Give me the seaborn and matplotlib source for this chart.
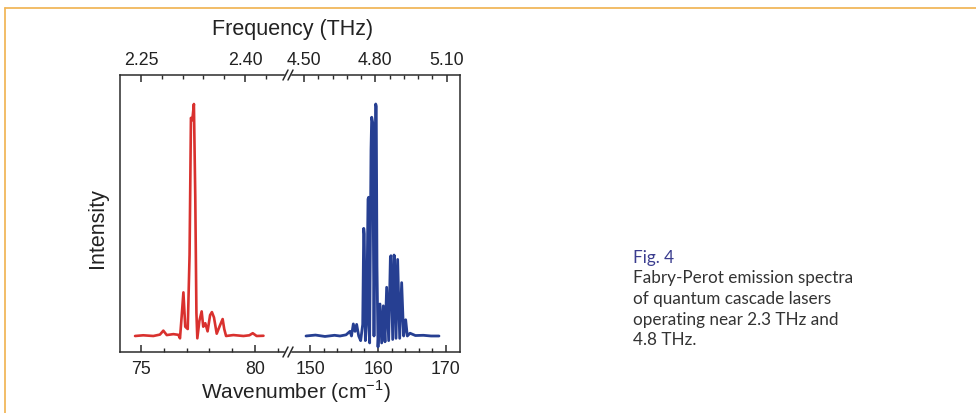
import numpy as np
import matplotlib.pyplot as plt
from matplotlib.lines import Line2D
import seaborn as sns

# Spectres (intensité normalisée au pic principal)
red_wavenumber = [74.74, 75.10, 75.54, 75.83, 75.98, 76.13, 76.42, 76.64, 76.71, 76.78,
                  76.86, 76.94, 77.05, 77.13, 77.19, 77.25, 77.32, 77.38, 77.43, 77.47,
                  77.56, 77.66, 77.73, 77.82, 77.92, 78.03, 78.11, 78.20, 78.32, 78.46,
                  78.58, 78.65, 78.73, 79.05, 79.49, 79.75, 79.90, 80.07, 80.37]
red_intensity = [0.0, 0.003, 0.0, 0.006, 0.023, 0.004, 0.008, 0.005, -0.01, 0.08,
                 0.188, 0.04, 0.03, 0.35, 0.94, 0.93, 1.0, 0.6, 0.1, -0.01,
                 0.065, 0.106, 0.04, 0.055, 0.02, 0.09, 0.103, 0.08, 0.01, 0.045,
                 0.073, 0.03, 0.0, 0.004, 0.0, 0.003, 0.012, 0.0, 0.001]

blue_wavenumber = [149.41, 150.8, 152.2, 153.6, 154.41, 155.3, 155.88, 156.1, 156.37, 156.62,
                   156.86, 157.16, 157.45, 157.75, 157.90, 157.98, 158.14, 158.33, 158.53, 158.62,
                   158.77, 158.97, 159.07, 159.22, 159.41, 159.56, 159.66, 159.74, 159.85, 160.0,
                   160.29, 160.54, 160.78, 161.03, 161.27, 161.57, 161.82, 161.90, 162.16, 162.36,
                   162.44, 162.65, 162.89, 163.19, 163.48, 163.77, 164.07, 164.31, 164.71, 165.5,
                   166.67, 167.8, 168.97]
blue_intensity = [0.0, 0.004, -0.002, 0.003, 0.0, 0.005, 0.02, 0.0, 0.052, 0.02,
                  0.05, 0.0, -0.02, 0.05, 0.464, 0.44, -0.02, 0.05, 0.59, 0.598,
                  -0.03, 0.8, 0.943, 0.92, 0.0, 0.6, 1.0, 0.99, 0.3, -0.047,
                  0.138, -0.03, 0.13, -0.025, 0.21, -0.02, 0.34, 0.346, -0.015, 0.349,
                  0.34, -0.01, 0.33, -0.01, 0.23, 0.0, 0.07, 0.0, 0.012, 0.002,
                  0.003, 0.0, 0.0]

# Graduations
wn_left_major = [75, 80]
wn_left_minor = [76, 77, 78, 79, 81]
wn_right_major = [150, 160, 170]
wn_right_minor = [152, 154, 156, 158, 162, 164, 166, 168]
thz_left_major = [2.25, 2.40]
thz_left_minor = [2.28, 2.31, 2.34, 2.37, 2.43]
thz_right_major = [4.50, 4.80, 5.10]
thz_right_minor = [4.56, 4.62, 4.68, 4.74, 4.86, 4.92, 4.98, 5.04]

caption_title = "Fig. 4"
caption_lines = ["Fabry-Perot emission spectra", "of quantum cascade lasers",
                 "operating near 2.3 THz and", "4.8 THz."]

RED = "#d9312e"
BLUE = "#263f92"
DARK = "#2b2b2b"

sns.set_style("white")
plt.rcParams['font.family'] = ['Liberation Sans', 'DejaVu Sans']

W, H = 976, 414
fig = plt.figure(figsize=(W / 100, H / 100), dpi=100)

def px(x0, y0, x1, y1):
    # rectangle en pixels (haut-gauche / bas-droite) -> coordonnées figure
    return [x0 / W, 1 - y1 / H, (x1 - x0) / W, (y1 - y0) / H]

ax1 = fig.add_axes(px(120, 76, 284, 353))
ax2 = fig.add_axes(px(292, 76, 460, 353))

sns.lineplot(x=red_wavenumber, y=red_intensity, ax=ax1, color=RED, lw=1.9,
             estimator=None, sort=False)
sns.lineplot(x=blue_wavenumber, y=blue_intensity, ax=ax2, color=BLUE, lw=2.0,
             estimator=None, sort=False)

ax1.set_xlim(74.08, 81.27)
ax2.set_xlim(147.35, 172.06)
for ax in (ax1, ax2):
    ax.set_ylim(-0.069, 1.125)
    ax.set_yticks([])
    ax.set_xlabel("")
    ax.set_ylabel("")
    for s in ax.spines.values():
        s.set_color(DARK)
        s.set_linewidth(1.1)
ax1.spines['right'].set_visible(False)
ax2.spines['left'].set_visible(False)

ax1.set_xticks(wn_left_major)
ax1.set_xticks(wn_left_minor, minor=True)
ax2.set_xticks(wn_right_major)
ax2.set_xticks(wn_right_minor, minor=True)

# Axe supérieur en fréquence
t1 = ax1.twiny()
t2 = ax2.twiny()
t1.set_xlim(2.2197, 2.4563)
t2.set_xlim(4.4495, 5.156)
t1.set_xticks(thz_left_major)
t1.set_xticklabels([f"{v:.2f}" for v in thz_left_major])
t1.set_xticks(thz_left_minor, minor=True)
t2.set_xticks(thz_right_major)
t2.set_xticklabels([f"{v:.2f}" for v in thz_right_major])
t2.set_xticks(thz_right_minor, minor=True)
for t in (t1, t2):
    for s in t.spines.values():
        s.set_visible(False)

for ax, pad in ((ax1, 6), (ax2, 6), (t1, 5), (t2, 5)):
    ax.tick_params(axis='x', which='major', direction='in', length=5, width=1.1,
                   color=DARK, labelsize=12.8, labelcolor="#222222", pad=pad)
    ax.tick_params(axis='x', which='minor', direction='in', length=3, width=1.0,
                   color=DARK)
    ax.tick_params(axis='y', left=False, right=False)

# Marques de coupure "//"
for yy in (76, 353):
    for xx in (285.5, 290.5):
        fig.add_artist(Line2D([(xx - 2.5) / W, (xx + 2.5) / W],
                              [1 - (yy + 5) / H, 1 - (yy - 5) / H],
                              transform=fig.transFigure, color=DARK, lw=1.1))

# Titres des axes
fig.text(293 / W, 1 - 30 / H, "Frequency (THz)", ha='center', va='center',
         fontsize=15.5, color="#222222")
fig.text(296 / W, 1 - 392 / H, "Wavenumber (cm$^{\\mathregular{-1}}$)", ha='center',
         va='center', fontsize=15, color="#222222")
fig.text(97 / W, 1 - 228 / H, "Intensity", ha='center', va='center', rotation=90,
         fontsize=15.5, color="#222222")

# Légende de la figure
cap_font = ['Lato', 'DejaVu Sans']
fig.text(633 / W, 1 - 262.5 / H, caption_title, ha='left', va='baseline',
         fontsize=12.3, color="#3b3d8f", family=cap_font)
for k, line in enumerate(caption_lines):
    fig.text(633 / W, 1 - (283.3 + 20.7 * k) / H, line, ha='left', va='baseline',
             fontsize=12.3, color="#333333", family=cap_font)

# Cadre orange
fig.add_artist(Line2D([5 / W, 1], [1 - 9 / H, 1 - 9 / H], transform=fig.transFigure,
                      color="#f1b75c", lw=1.3))
fig.add_artist(Line2D([5 / W, 5 / W], [0, 1 - 9 / H], transform=fig.transFigure,
                      color="#f1b75c", lw=1.3))

fig.savefig("out.png", dpi=100)
